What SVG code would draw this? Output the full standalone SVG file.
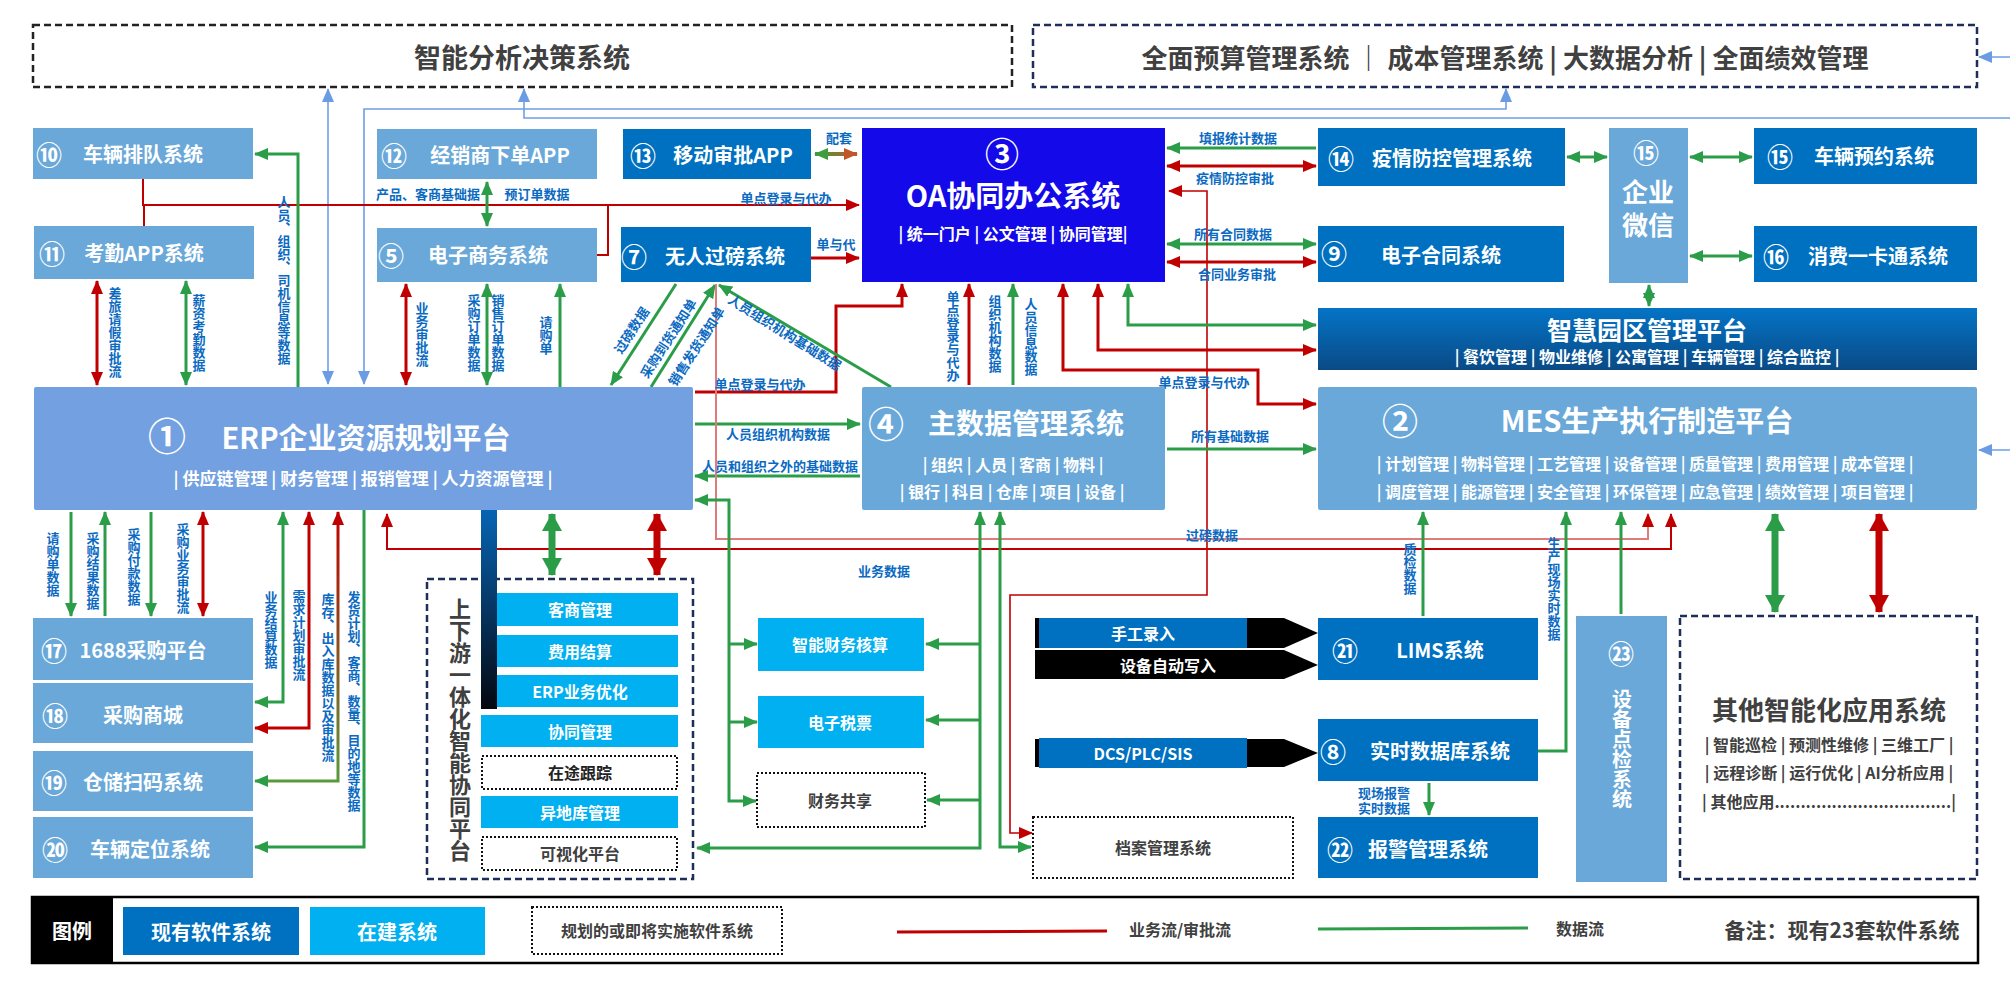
<svg xmlns="http://www.w3.org/2000/svg" width="2010" height="981" viewBox="0 0 2010 981">
<style>
text{font-family:"Noto Sans CJK SC","Noto Sans",sans-serif;font-weight:700;dominant-baseline:central;text-anchor:middle}
.w{fill:#fff}
.g{fill:#404040}
.lb{fill:#0a6ac2;font-size:13px}
.v{writing-mode:vertical-rl}
.n1{fill:#69a8d9}
.n2{fill:#0070c0}
.n3{fill:#00b0f0}
.dot{fill:#fff;stroke:#111;stroke-width:2;stroke-dasharray:2 2}
.gl{fill:none;stroke:#2b9d48;stroke-width:3}
.rl{fill:none;stroke:#c00000;stroke-width:3}
.rt{fill:none;stroke:#c00000;stroke-width:1.6}
.bl{fill:none;stroke:#6f9fe6;stroke-width:1.6}
.ga{marker-end:url(#ag)}
.gb{marker-start:url(#ag);marker-end:url(#ag)}
.ra{marker-end:url(#ar)}
.rb{marker-start:url(#ar);marker-end:url(#ar)}
</style>
<defs>
<marker id="ag" viewBox="0 0 14 12" refX="13" refY="6" markerWidth="14" markerHeight="12" markerUnits="userSpaceOnUse" orient="auto-start-reverse"><path d="M0,0L14,6L0,12z" fill="#2b9d48"/></marker>
<marker id="ar" viewBox="0 0 14 12" refX="13" refY="6" markerWidth="14" markerHeight="12" markerUnits="userSpaceOnUse" orient="auto-start-reverse"><path d="M0,0L14,6L0,12z" fill="#c00000"/></marker>
<marker id="ab" viewBox="0 0 14 12" refX="13" refY="6" markerWidth="14" markerHeight="12" markerUnits="userSpaceOnUse" orient="auto-start-reverse"><path d="M0,0L14,6L0,12z" fill="#6a9be3"/></marker>
<marker id="agT" viewBox="0 0 18 20" refX="17" refY="10" markerWidth="18" markerHeight="20" markerUnits="userSpaceOnUse" orient="auto-start-reverse"><path d="M0,0L18,10L0,20z" fill="#2b9d48"/></marker>
<marker id="arT" viewBox="0 0 18 20" refX="17" refY="10" markerWidth="18" markerHeight="20" markerUnits="userSpaceOnUse" orient="auto-start-reverse"><path d="M0,0L18,10L0,20z" fill="#c00000"/></marker>
<marker id="agS" viewBox="0 0 14 12" refX="13" refY="6" markerWidth="14" markerHeight="12" markerUnits="userSpaceOnUse" orient="auto-start-reverse"><path d="M0,0L14,6L0,12z" fill="#3e9e3e"/></marker>
<marker id="abr" viewBox="0 0 14 12" refX="13" refY="6" markerWidth="14" markerHeight="12" markerUnits="userSpaceOnUse" orient="auto-start-reverse"><path d="M0,0L14,6L0,12z" fill="#c0562a"/></marker>
<linearGradient id="pt" x1="813" y1="0" x2="859" y2="0" gradientUnits="userSpaceOnUse"><stop offset="0" stop-color="#3e9e3e"/><stop offset="1" stop-color="#c0562a"/></linearGradient>
<linearGradient id="kc" x1="0" y1="512" x2="0" y2="781" gradientUnits="userSpaceOnUse"><stop offset="0" stop-color="#c00000"/><stop offset="1" stop-color="#5a9a3a"/></linearGradient>
<linearGradient id="zh" x1="0" y1="0" x2="0" y2="1"><stop offset="0" stop-color="#0474c6"/><stop offset="1" stop-color="#0a4a86"/></linearGradient>
<linearGradient id="bar" x1="0" y1="0" x2="0" y2="1"><stop offset="0" stop-color="#0664b4"/><stop offset="1" stop-color="#05070f"/></linearGradient>
</defs>

<g id="top-ai">
<rect x="33" y="25" width="979" height="62" fill="#fff" stroke="#222" stroke-width="2.5" stroke-dasharray="7 4"/>
<text class="g" x="522" y="56" font-size="27">智能分析决策系统</text>
</g>
<g id="top-budget">
<rect x="1033" y="25" width="944" height="62" fill="#fff" stroke="#1f2d5a" stroke-width="2.5" stroke-dasharray="7 4"/>
<text class="g" x="1505" y="56" font-size="26">全面预算管理系统 ｜ 成本管理系统 | 大数据分析 | 全面绩效管理</text>
</g>

<g id="connectors">
<path class="bl" d="M328,384L328,89" marker-start="url(#ab)" marker-end="url(#ab)"/>
<path class="bl" d="M364,384L364,109L1506,109L1506,89" marker-start="url(#ab)" marker-end="url(#ab)"/>
<path class="bl" d="M2012,118L524,118L524,89" marker-end="url(#ab)"/>
<path class="bl" d="M2012,57L1979,57" marker-end="url(#ab)"/>
<path class="bl" d="M2012,450L1979,450" marker-end="url(#ab)"/>
<path class="rl" style="stroke-width:2" d="M143,179L143,205L859,205" marker-end="url(#ar)"/>
<path class="rl" style="stroke-width:2" d="M144,226L144,205"/>
<path class="rl" style="stroke-width:2" d="M597,255L608,255L608,205"/>
<path class="rl ra" d="M811,258L859,258"/>
<path d="M815,154L857,154" fill="none" stroke="url(#pt)" stroke-width="4" marker-start="url(#agS)" marker-end="url(#abr)"/>
<path class="gl ga" d="M1316,148L1167,148"/>
<path class="rl rb" d="M1167,166L1316,166"/>
<path class="gl gb" d="M1167,244L1316,244"/>
<path class="rl rb" d="M1167,262L1316,262"/>
<path class="rt rb" d="M1169,191L1207,191L1207,595L1010,595L1010,833L1032,833"/>
<path class="gl gb" d="M1567,157L1607,157"/>
<path class="gl gb" d="M1690,157L1752,157"/>
<path class="gl gb" d="M1690,256L1752,256"/>
<path class="gl gb" d="M1649,285L1649,306"/>
<path class="gl gb" d="M1128,284L1128,325L1316,325"/>
<path class="rl rb" d="M1098,284L1098,350L1316,350"/>
<path class="rl rb" d="M1063,284L1063,370L1258,370L1258,404L1316,404"/>
<path class="gl ga" d="M1013,385L1013,284"/>
<path class="rl ra" d="M969,385L969,284"/>
<path class="rl ra" d="M695,392L836,392L836,306L902,306L902,284"/>
<path class="gl ga" d="M695,424L860,424"/>
<path class="gl ga" d="M860,476L695,476"/>
<path class="gl ga" d="M1167,449L1316,449"/>
<path class="gl ga" d="M676,284L611,385"/>
<path class="gl ga" d="M651,387L715,285"/>
<path class="gl ga" d="M891,387L719,285"/>
<path d="M716,284L716,539L1648,539L1648,514" fill="none" stroke="#e07b7b" stroke-width="2" marker-end="url(#ar)"/>
<path class="rt" style="stroke-width:2" d="M387,514L387,549L1671,549L1671,514" marker-start="url(#ar)" marker-end="url(#ar)"/>
<path class="rl rb" d="M97,281L97,385"/>
<path class="gl gb" d="M186,281L186,385"/>
<path class="gl ga" d="M298,387L298,154L255,154"/>
<path class="rl rb" d="M406,284L406,385"/>
<path class="gl gb" d="M487,284L487,385"/>
<path class="gl ga" d="M560,387L560,284"/>
<path class="gl gb" d="M487,182L487,226"/>
<path class="gl ga" d="M71,512L71,616"/>
<path class="gl ga" d="M105,616L105,512"/>
<path class="gl ga" d="M151,512L151,616"/>
<path class="rl rb" d="M203,512L203,616"/>
<path class="gl gb" d="M283,512L283,702L255,702"/>
<path class="rl rb" d="M309,512L309,728L255,728"/>
<path d="M338,512L338,781L255,781" fill="none" stroke="url(#kc)" stroke-width="3" marker-start="url(#ar)" marker-end="url(#ag)"/>
<path class="gl ga" d="M364,510L364,847L255,847"/>
<path fill="none" stroke="#2b9d48" stroke-width="7" d="M552,514L552,575" marker-start="url(#agT)" marker-end="url(#agT)"/>
<path fill="none" stroke="#c00000" stroke-width="7" d="M657,514L657,575" marker-start="url(#arT)" marker-end="url(#arT)"/>
<path class="gl" d="M695,500L729,500L729,801L756,801" marker-start="url(#ag)" marker-end="url(#ag)"/>
<path class="gl ga" d="M729,644L757,644"/>
<path class="gl ga" d="M729,722L757,722"/>
<path class="gl" d="M980,512L980,848L697,848" marker-start="url(#ag)" marker-end="url(#ag)"/>
<path class="gl ga" d="M980,644L926,644"/>
<path class="gl ga" d="M980,720L926,720"/>
<path class="gl ga" d="M980,800L927,800"/>
<path class="gl gb" d="M1000,512L1000,847L1031,847"/>
<path class="gl ga" d="M1423,616L1423,512"/>
<path class="gl ga" d="M1538,751L1566,751L1566,512"/>
<path class="gl ga" d="M1621,614L1621,512"/>
<path fill="none" stroke="#2b9d48" stroke-width="7" d="M1775,514L1775,612" marker-start="url(#agT)" marker-end="url(#agT)"/>
<path fill="none" stroke="#c00000" stroke-width="7" d="M1879,514L1879,612" marker-start="url(#arT)" marker-end="url(#arT)"/>
<path class="gl ga" d="M1429,783L1429,815"/>
<path d="M1035,618L1284,618L1318,633L1284,648L1035,648z" fill="#000"/>
<path d="M1035,650L1284,650L1318,665L1284,679L1035,679z" fill="#000"/>
<path d="M1035,739L1284,739L1318,753L1284,767L1035,767z" fill="#000"/>
</g>

<g id="labels">
<text class="lb" x="839" y="137">配套</text>
<text class="lb" x="428" y="193">产品、客商基础据</text>
<text class="lb" x="537" y="193">预订单数据</text>
<text class="lb" x="786" y="197">单点登录与代办</text>
<text class="lb" x="836" y="243">单与代</text>
<text class="lb" x="1238" y="137">填报统计数据</text>
<text class="lb" x="1235" y="177">疫情防控审批</text>
<text class="lb" x="1233" y="233">所有合同数据</text>
<text class="lb" x="1237" y="273">合同业务审批</text>
<text class="lb" x="1204" y="381">单点登录与代办</text>
<text class="lb" x="760" y="383">单点登录与代办</text>
<text class="lb" x="778" y="433">人员组织机构数据</text>
<text class="lb" x="780" y="465">人员和组织之外的基础数据</text>
<text class="lb" x="1230" y="435">所有基础数据</text>
<text class="lb" x="1212" y="534">过磅数据</text>
<text class="lb" x="884" y="570">业务数据</text>
<text class="lb" x="1384" y="792">现场报警</text>
<text class="lb" x="1384" y="807">实时数据</text>
<text class="lb" transform="translate(631,330) rotate(-57)">过磅数据</text>
<text class="lb" transform="translate(668,338) rotate(-57)">采购到货通知单</text>
<text class="lb" transform="translate(696,346) rotate(-57)">销售发货通知单</text>
<text class="lb" transform="translate(785,332) rotate(32)">人员组织机构基础数据</text>
<text class="lb v" x="115" y="332">差旅请假审批流</text>
<text class="lb v" x="199" y="333">薪资考勤数据</text>
<text class="lb v" x="284" y="280">人员、组织、司机信息等数据</text>
<text class="lb v" x="422" y="334">业务审批流</text>
<text class="lb v" x="474" y="333">采购订单数据</text>
<text class="lb v" x="498" y="333">销售订单数据</text>
<text class="lb v" x="546" y="335">请购单</text>
<text class="lb v" x="53" y="564">请购单数据</text>
<text class="lb v" x="93" y="571">采购结果数据</text>
<text class="lb v" x="134" y="567">采购付款数据</text>
<text class="lb v" x="183" y="568">采购业务审批流</text>
<text class="lb v" x="271" y="630">业务结算数据</text>
<text class="lb v" x="299" y="635">需求计划审批流</text>
<text class="lb v" x="328" y="677">库存、出入库数据以及审批流</text>
<text class="lb v" x="354" y="701">发货计划、客商、数量、目的地等数据</text>
<text class="lb v" x="1410" y="569">质检数据</text>
<text class="lb v" x="1554" y="589">生产现场实时数据</text>
<text class="lb v" x="953" y="336">单点登录与代办</text>
<text class="lb v" x="995" y="334">组织机构数据</text>
<text class="lb v" x="1031" y="337">人员信息数据</text>
</g>

<g id="n10"><rect class="n1" x="33" y="128" width="220" height="51"/><text class="w" x="49" y="153" font-size="26">⑩</text><text class="w" x="143" y="153" font-size="20">车辆排队系统</text></g>
<g id="n11"><rect class="n1" x="34" y="226" width="220" height="53"/><text class="w" x="52" y="252" font-size="26">⑪</text><text class="w" x="144" y="252" font-size="20">考勤APP系统</text></g>
<g id="n12"><rect class="n1" x="377" y="129" width="220" height="50"/><text class="w" x="394" y="154" font-size="26">⑫</text><text class="w" x="500" y="154" font-size="20">经销商下单APP</text></g>
<g id="n5"><rect class="n1" x="377" y="228" width="220" height="54"/><text class="w" x="391" y="254" font-size="26">⑤</text><text class="w" x="488" y="254" font-size="20">电子商务系统</text></g>
<g id="n13"><rect class="n2" x="623" y="129" width="188" height="50"/><text class="w" x="643" y="154" font-size="26">⑬</text><text class="w" x="733" y="154" font-size="20">移动审批APP</text></g>
<g id="n7"><rect class="n2" x="621" y="227" width="190" height="55"/><text class="w" x="634" y="255" font-size="26">⑦</text><text class="w" x="725" y="255" font-size="20">无人过磅系统</text></g>
<g id="n3"><rect x="862" y="128" width="303" height="154" fill="#1309e9"/><text class="w" x="1002" y="152" font-size="34">③</text><text class="w" x="1013" y="194" font-size="29">OA协同办公系统</text><text class="w" x="1013" y="233" font-size="16">| 统一门户 | 公文管理 | 协同管理|</text></g>
<g id="n14"><rect class="n2" x="1318" y="128" width="247" height="58"/><text class="w" x="1341" y="157" font-size="26">⑭</text><text class="w" x="1452" y="157" font-size="20">疫情防控管理系统</text></g>
<g id="n9"><rect class="n2" x="1318" y="226" width="246" height="56"/><text class="w" x="1334" y="252" font-size="26">⑨</text><text class="w" x="1441" y="254" font-size="20">电子合同系统</text></g>
<g id="n15w"><rect class="n1" x="1609" y="128" width="79" height="155"/><text class="w" x="1646" y="151" font-size="26">⑮</text><text class="w" x="1648" y="190" font-size="26">企业</text><text class="w" x="1648" y="223" font-size="26">微信</text></g>
<g id="n15"><rect class="n2" x="1754" y="128" width="223" height="56"/><text class="w" x="1780" y="155" font-size="26">⑮</text><text class="w" x="1874" y="155" font-size="20">车辆预约系统</text></g>
<g id="n16"><rect class="n2" x="1754" y="226" width="223" height="56"/><text class="w" x="1776" y="255" font-size="26">⑯</text><text class="w" x="1878" y="255" font-size="20">消费一卡通系统</text></g>
<g id="park"><rect x="1318" y="308" width="659" height="62" fill="url(#zh)"/><text class="w" x="1647" y="329" font-size="25">智慧园区管理平台</text><text class="w" x="1647" y="356" font-size="16">| 餐饮管理 | 物业维修 | 公寓管理 | 车辆管理 | 综合监控 |</text></g>
<g id="n1"><rect x="34" y="387" width="659" height="123" rx="2" fill="#72a0e0"/><text class="w" x="167" y="433" font-size="38">①</text><text class="w" x="366" y="436" font-size="29">ERP企业资源规划平台</text><text class="w" x="363" y="477" font-size="17">| 供应链管理 | 财务管理 | 报销管理 | 人力资源管理 |</text></g>
<g id="n4"><rect class="n1" x="862" y="387" width="303" height="123" rx="2"/><text class="w" x="886" y="422" font-size="36">④</text><text class="w" x="1026" y="422" font-size="28">主数据管理系统</text><text class="w" x="1013" y="464" font-size="16">| 组织 | 人员 | 客商 | 物料 |</text><text class="w" x="1012" y="491" font-size="16">| 银行 | 科目 | 仓库 | 项目 | 设备 |</text></g>
<g id="n2"><rect class="n1" x="1318" y="387" width="659" height="123" rx="2"/><text class="w" x="1400" y="419" font-size="36">②</text><text class="w" x="1647" y="419" font-size="29">MES生产执行制造平台</text><text class="w" x="1645" y="463" font-size="16">| 计划管理 | 物料管理 | 工艺管理 | 设备管理 | 质量管理 | 费用管理 | 成本管理 |</text><text class="w" x="1645" y="491" font-size="16">| 调度管理 | 能源管理 | 安全管理 | 环保管理 | 应急管理 | 绩效管理 | 项目管理 |</text></g>

<g id="n17"><rect class="n1" x="33" y="618" width="220" height="62"/><text class="w" x="54" y="649" font-size="26">⑰</text><text class="w" x="143" y="649" font-size="20">1688采购平台</text></g>
<g id="n18"><rect class="n1" x="33" y="683" width="220" height="60"/><text class="w" x="55" y="714" font-size="26">⑱</text><text class="w" x="143" y="714" font-size="20">采购商城</text></g>
<g id="n19"><rect class="n1" x="33" y="751" width="220" height="60"/><text class="w" x="54" y="781" font-size="26">⑲</text><text class="w" x="143" y="781" font-size="20">仓储扫码系统</text></g>
<g id="n20"><rect class="n1" x="33" y="817" width="220" height="61"/><text class="w" x="55" y="848" font-size="26">⑳</text><text class="w" x="150" y="848" font-size="20">车辆定位系统</text></g>

<g id="updown">
<rect x="427" y="579" width="266" height="300" fill="none" stroke="#1f2d5a" stroke-width="2.5" stroke-dasharray="7 4"/>
<text class="g v" x="460" y="730" font-size="22">上下游一体化智能协同平台</text>
<rect class="n3" x="481" y="593" width="197" height="33"/><text class="w" x="580" y="609" font-size="16">客商管理</text>
<rect class="n3" x="481" y="635" width="197" height="32"/><text class="w" x="580" y="651" font-size="16">费用结算</text>
<rect class="n3" x="481" y="675" width="197" height="32"/><text class="w" x="580" y="691" font-size="16">ERP业务优化</text>
<rect class="n3" x="481" y="715" width="197" height="32"/><text class="w" x="580" y="731" font-size="16">协同管理</text>
<rect class="dot" x="482" y="756" width="195" height="33"/><text x="580" y="772" font-size="16" fill="#222">在途跟踪</text>
<rect class="n3" x="481" y="796" width="197" height="32"/><text class="w" x="580" y="812" font-size="16">异地库管理</text>
<rect class="dot" x="482" y="837" width="195" height="33"/><text x="580" y="853" font-size="16" fill="#404040">可视化平台</text>
<rect x="481" y="510" width="16" height="199" fill="url(#bar)"/>
</g>

<g id="fin1"><rect class="n3" x="758" y="618" width="166" height="53"/><text class="w" x="840" y="644" font-size="16">智能财务核算</text></g>
<g id="fin2"><rect class="n3" x="758" y="696" width="166" height="52"/><text class="w" x="840" y="722" font-size="16">电子税票</text></g>
<g id="fin3"><rect class="dot" x="757" y="773" width="168" height="54"/><text class="g" x="840" y="800" font-size="16">财务共享</text></g>
<g id="archive"><rect class="dot" x="1033" y="817" width="260" height="61"/><text class="g" x="1163" y="847" font-size="16">档案管理系统</text></g>

<g id="in1"><rect class="n2" x="1039" y="618" width="208" height="30"/><text class="w" x="1143" y="633" font-size="16">手工录入</text></g>
<g id="in2"><text class="w" x="1168" y="665" font-size="16">设备自动写入</text></g>
<g id="in3"><rect class="n2" x="1039" y="738" width="208" height="30"/><text class="w" x="1143" y="753" font-size="16">DCS/PLC/SIS</text></g>
<g id="n21"><rect class="n2" x="1318" y="618" width="220" height="62"/><text class="w" x="1345" y="649" font-size="26">㉑</text><text class="w" x="1440" y="649" font-size="20">LIMS系统</text></g>
<g id="n8"><rect class="n2" x="1318" y="719" width="220" height="62"/><text class="w" x="1333" y="750" font-size="26">⑧</text><text class="w" x="1440" y="750" font-size="20">实时数据库系统</text></g>
<g id="n22"><rect class="n2" x="1318" y="817" width="220" height="61"/><text class="w" x="1340" y="848" font-size="26">㉒</text><text class="w" x="1428" y="848" font-size="20">报警管理系统</text></g>
<g id="n23"><rect class="n1" x="1576" y="616" width="91" height="266"/><text class="w" x="1621" y="652" font-size="26">㉓</text><text class="w v" x="1622" y="749" font-size="20">设备点检系统</text></g>
<g id="other">
<rect x="1680" y="616" width="297" height="263" fill="#fff" stroke="#1f2d5a" stroke-width="2.5" stroke-dasharray="7 4"/>
<text class="g" x="1829" y="708" font-size="26">其他智能化应用系统</text>
<text class="g" x="1829" y="744" font-size="16">| 智能巡检 | 预测性维修 | 三维工厂 |</text>
<text class="g" x="1829" y="772" font-size="16">| 远程诊断 | 运行优化 | AI分析应用 |</text>
<text class="g" x="1829" y="801" font-size="16">| 其他应用..................................|</text>
</g>

<g id="legend">
<rect x="32" y="897" width="1946" height="66" fill="#fff" stroke="#000" stroke-width="2.5"/>
<rect x="32" y="897" width="81" height="66" fill="#000"/>
<text class="w" x="72" y="930" font-size="20">图例</text>
<rect class="n2" x="123" y="907" width="176" height="48"/><text class="w" x="211" y="931" font-size="20">现有软件系统</text>
<rect class="n3" x="310" y="907" width="175" height="48"/><text class="w" x="397" y="931" font-size="20">在建系统</text>
<rect class="dot" x="532" y="907" width="250" height="47"/><text class="g" x="657" y="930" font-size="16">规划的或即将实施软件系统</text>
<line x1="897" y1="932" x2="1107" y2="931" stroke="#c00000" stroke-width="3"/>
<text class="g" x="1180" y="929" font-size="16">业务流/审批流</text>
<line x1="1318" y1="929" x2="1528" y2="928" stroke="#2b9d48" stroke-width="3"/>
<text class="g" x="1580" y="928" font-size="16">数据流</text>
<text class="g" x="1842" y="929" font-size="21">备注：现有23套软件系统</text>
</g>
</svg>
